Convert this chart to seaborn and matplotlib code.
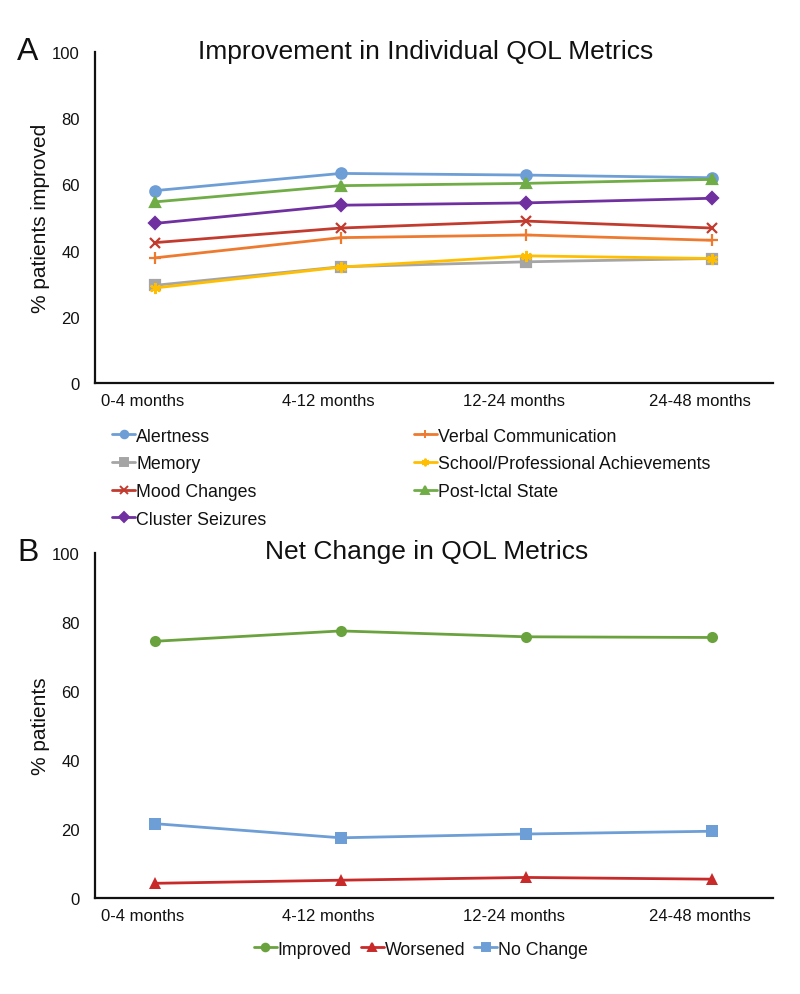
import numpy as np
import pandas as pd
import matplotlib
matplotlib.use("Agg")
import matplotlib.pyplot as plt
import matplotlib.transforms as mtrans
import seaborn as sns
from matplotlib.lines import Line2D

# data
periods = ["0-4 months", "4-12 months", "12-24 months", "24-48 months"]

alertness = [58.1, 63.3, 62.8, 62.0]
verbal = [37.8, 43.9, 44.7, 43.1]
memory = [29.5, 35.1, 36.6, 37.6]
school = [28.7, 35.0, 38.4, 37.6]
mood = [42.4, 46.8, 48.9, 46.8]
post_ictal = [54.7, 59.6, 60.3, 61.5]
cluster = [48.2, 53.7, 54.4, 55.8]

improved = [74.4, 77.4, 75.7, 75.5]
worsened = [4.2, 5.1, 5.9, 5.4]
no_change = [21.5, 17.4, 18.5, 19.3]

metrics_a = ["Alertness", "Verbal Communication", "Memory",
             "School/Professional Achievements", "Mood Changes",
             "Post-Ictal State", "Cluster Seizures"]
values_a = [alertness, verbal, memory, school, mood, post_ictal, cluster]
colors_a = ["#6e9ed6", "#ee7a30", "#a5a5a5", "#ffbf00", "#c23b2e", "#70ad47", "#7030a0"]
markers_a = ["o", "+", "s", (6, 2, 0), "x", "^", "D"]
msizes_a = [7.5, 8, 6.5, 8, 7.5, 7.5, 6.2]

metrics_b = ["Improved", "Worsened", "No Change"]
values_b = [improved, worsened, no_change]
colors_b = ["#6aa33e", "#c82a2a", "#6e9ed6"]
markers_b = ["o", "^", "s"]


sns.set_style("white")
plt.rcParams["font.family"] = ["Liberation Sans", "DejaVu Sans"]

fig = plt.figure(figsize=(8, 9.95), dpi=100)
ax_a = fig.add_axes([0.11875, 0.6141, 0.8475, 0.3327])
ax_b = fig.add_axes([0.11875, 0.0967, 0.8475, 0.3465])


def style_axis(ax, ylabel):
    ax.set_xlim(-0.323, 3.328)
    ax.set_ylim(0, 100)
    ax.set_yticks([0, 20, 40, 60, 80, 100])
    ax.set_xticks(range(len(periods)))
    ax.set_xticklabels(periods)
    ax.tick_params(axis="y", direction="inout", length=9, width=1.5,
                   labelsize=12, pad=6.5, colors="#111111")
    ax.tick_params(axis="x", length=0, labelsize=12, pad=7, colors="#111111")
    # excel puts the category labels a little left of the points
    shift = mtrans.ScaledTranslation(-12 / 100, 0, fig.dpi_scale_trans)
    for lab in ax.get_xticklabels():
        lab.set_transform(lab.get_transform() + shift)
    for s in ["top", "right"]:
        ax.spines[s].set_visible(False)
    for s in ["left", "bottom"]:
        ax.spines[s].set_linewidth(1.6)
        ax.spines[s].set_color("#111111")
    ax.set_xlabel("")
    ax.set_ylabel(ylabel, fontsize=15, color="#111111")
    ax.yaxis.set_label_coords(-0.066, 0.5)


xs = np.arange(len(periods))
for name, vals, c, m, ms in zip(metrics_a, values_a, colors_a, markers_a, msizes_a):
    sns.lineplot(x=xs, y=vals, color=c, marker=m, linewidth=2,
                 markersize=ms, markeredgewidth=1.6, markeredgecolor=c, ax=ax_a)
style_axis(ax_a, "% patients improved")

for name, vals, c, m in zip(metrics_b, values_b, colors_b, markers_b):
    sns.lineplot(x=xs, y=vals, color=c, marker=m, linewidth=2,
                 markersize=8, markeredgewidth=0, ax=ax_b)
style_axis(ax_b, "% patients")

fig.text(426 / 800, 1 - 52 / 995, "Improvement in Individual QOL Metrics",
         fontsize=19, ha="center", va="center", color="#111111")
fig.text(427 / 800, 1 - 552 / 995, "Net Change in QOL Metrics",
         fontsize=19, ha="center", va="center", color="#111111")
fig.text(17 / 800, 1 - 52 / 995, "A", fontsize=23, va="center", color="#111111")
fig.text(17 / 800, 1 - 553 / 995, "B", fontsize=23, va="center", color="#111111")


def handle(c, m, ms=5.5):
    return Line2D([0], [0], color=c, marker=m, lw=2, ms=ms, mew=1.4, mec=c)

# legend A: excel ordering is row-major, matplotlib fills column-major
order = [0, 2, 4, 6, 1, 3, 5]
h_a = [handle(colors_a[i], markers_a[i]) for i in order]
l_a = [metrics_a[i] for i in order]
fig.legend(h_a, l_a, ncol=2, loc="upper left", bbox_to_anchor=(112 / 800, 0.5693),
           frameon=False, fontsize=12.8, handlelength=1.3, handletextpad=0.05,
           columnspacing=8.3, labelspacing=0.6, borderpad=0, borderaxespad=0,
           labelcolor="#111111")

h_b = [handle(c, m) for c, m in zip(colors_b, markers_b)]
fig.legend(h_b, metrics_b, ncol=3, loc="center", bbox_to_anchor=(421 / 800, 0.0452),
           frameon=False, fontsize=12.8, handlelength=1.3, handletextpad=0.05,
           columnspacing=0.5, borderpad=0, borderaxespad=0, labelcolor="#111111")

fig.savefig("out.png", dpi=100)
